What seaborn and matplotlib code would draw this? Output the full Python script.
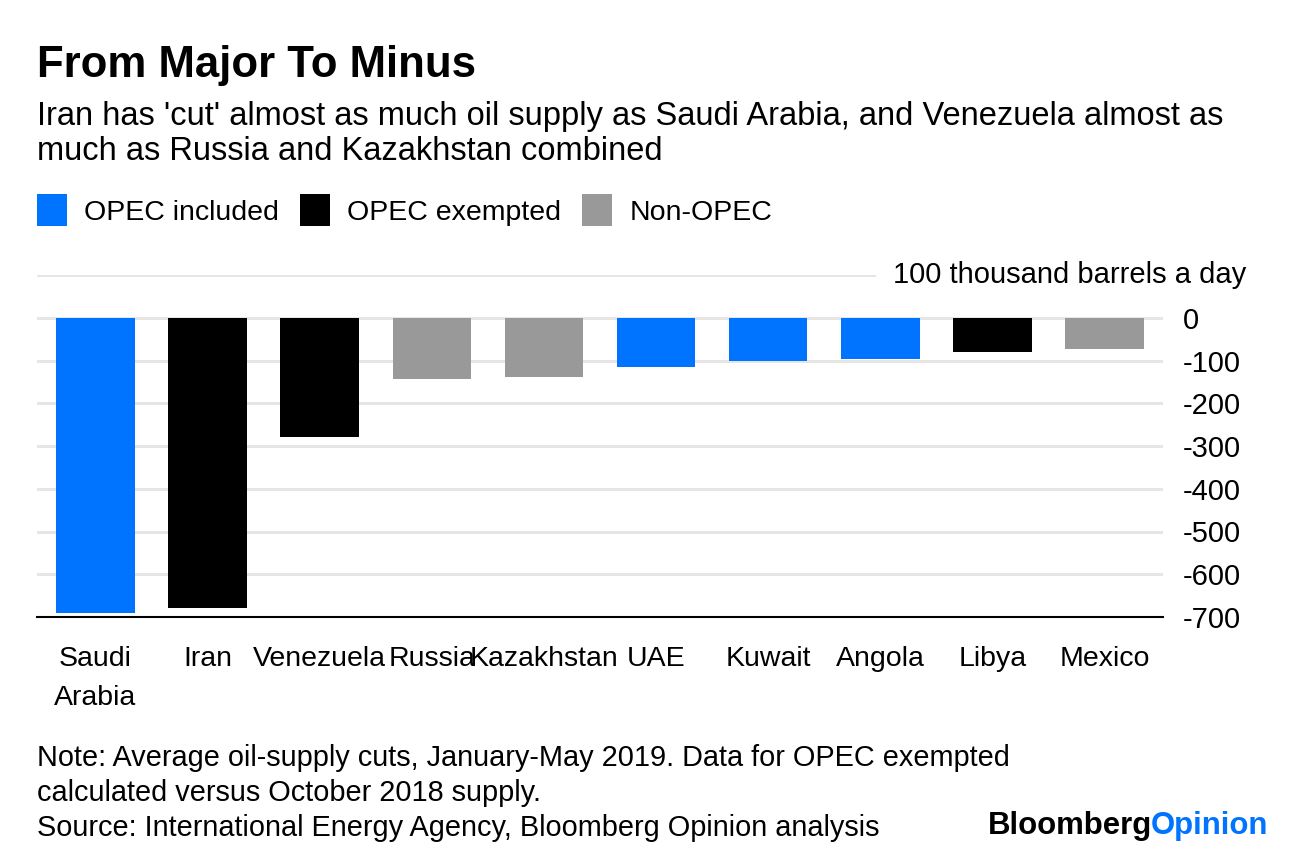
import matplotlib
matplotlib.use("Agg")
import matplotlib.pyplot as plt
from matplotlib.patches import Patch
import seaborn as sns
import pandas as pd

countries = ["Saudi\nArabia", "Iran", "Venezuela", "Russia", "Kazakhstan",
             "UAE", "Kuwait", "Angola", "Libya", "Mexico"]
cuts = [-691, -678, -280, -143, -139, -115, -101, -96, -80, -73]
groups = ["OPEC included", "OPEC exempted", "OPEC exempted", "Non-OPEC", "Non-OPEC",
          "OPEC included", "OPEC included", "OPEC included", "OPEC exempted", "Non-OPEC"]
group_order = ["OPEC included", "OPEC exempted", "Non-OPEC"]
colors = {"OPEC included": "#0073ff", "OPEC exempted": "#000000", "Non-OPEC": "#999999"}
yticks = [0, -100, -200, -300, -400, -500, -600, -700]
note_lines = ["Note: Average oil-supply cuts, January-May 2019. Data for OPEC exempted",
              "calculated versus October 2018 supply.",
              "Source: International Energy Agency, Bloomberg Opinion analysis"]

df = pd.DataFrame({"country": countries, "cut": cuts, "group": groups})

sns.set_theme(style="white")
plt.rcParams["font.family"] = ["Liberation Sans", "DejaVu Sans"]
plt.rcParams["text.color"] = "black"

fig = plt.figure(figsize=(12.96, 8.58), dpi=100)
ax = fig.add_axes([37 / 1296, 1 - 617 / 858, (1163 - 37) / 1296, (617 - 275) / 858])

sns.barplot(data=df, x="country", y="cut", hue="group", hue_order=group_order,
            palette=colors, dodge=False, width=0.7, linewidth=0, saturation=1,
            legend=False, ax=ax)

ax.set_xlim(-0.52, 9.52)
ax.set_ylim(-700, 100)
ax.set_yticks(yticks)
ax.set_yticklabels([str(t) for t in yticks])
ax.yaxis.tick_right()
ax.tick_params(axis="y", length=0, labelsize=21, pad=14, colors="black")
ax.tick_params(axis="x", length=8, width=1.2, labelsize=20.5, colors="black", pad=13)
for lbl in ax.get_xticklabels():
    lbl.set_linespacing(1.65)
    lbl.set_verticalalignment("top")
ax.set_xlabel("")
ax.set_ylabel("")
for s in ["top", "right", "left"]:
    ax.spines[s].set_visible(False)
ax.spines["bottom"].set_color("black")
ax.spines["bottom"].set_linewidth(1.5)

for y in [100] + yticks:
    ax.axhline(y, color="#e4e4e4", lw=2, zorder=0)
ax.set_axisbelow(True)

ax.text(1.074, 100, "100 thousand barrels a day", transform=ax.get_yaxis_transform(),
        ha="right", va="center", fontsize=21,
        bbox=dict(facecolor="white", edgecolor="none", pad=12))

fig.text(37 / 1296, 1 - 65 / 858, "From Major To Minus", fontsize=31.5, fontweight="bold",
         va="center", ha="left")
fig.text(37 / 1296, 1 - 134 / 858,
         "Iran has 'cut' almost as much oil supply as Saudi Arabia, and Venezuela almost as\n"
         "much as Russia and Kazakhstan combined",
         fontsize=23.5, va="center", ha="left", linespacing=1.2)

handles = [Patch(facecolor=colors[g], edgecolor="none", label=g) for g in group_order]
fig.legend(handles=handles, loc="center left", bbox_to_anchor=(11 / 1296, 1 - 210 / 858),
           ncol=3, frameon=False, fontsize=20.5, handlelength=1.05, handleheight=1.3,
           handletextpad=0.6, columnspacing=0.75)

# footnote, one text per line
for i, line in enumerate(note_lines):
    fig.text(37 / 1296, 1 - (758 + 35 * i) / 858, line,
             fontsize=20.8, va="center", ha="left")

t = fig.text(1268 / 1296, 1 - 826 / 858, "Opinion", fontsize=22.4, fontweight="bold",
             color="#0073ff", ha="right", va="center")
fig.canvas.draw()
bb = t.get_window_extent()
fig.text((bb.x0 + 1) / 1296, 1 - 826 / 858, "Bloomberg", fontsize=22.4, fontweight="bold",
         color="black", ha="right", va="center")

fig.savefig("out.png", dpi=100, facecolor="white")
